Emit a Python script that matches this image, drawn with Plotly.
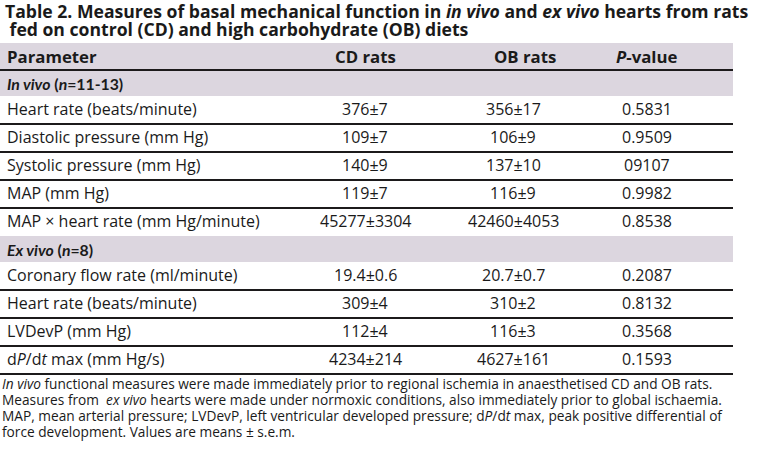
import plotly.graph_objects as go

# ---------------- data ----------------
title_lines = [
    "<b>Table 2. Measures of basal mechanical function in <i>in vivo</i> and <i>ex vivo</i> hearts from rats</b>",
    "<b> fed on control (CD) and high carbohydrate (OB) diets</b>",
]
headers = ["<b>Parameter</b>", "<b>CD rats</b>", "<b>OB rats</b>", "<b><i>P</i>-value</b>"]

group1_label = "<b><i>In vivo</i> (<i>n</i>=11-13)</b>"
group1_params = ["Heart rate (beats/minute)", "Diastolic pressure (mm Hg)",
                 "Systolic pressure (mm Hg)", "MAP (mm Hg)",
                 "MAP × heart rate (mm Hg/minute)"]
group1_cd = ["376±7", "109±7", "140±9", "119±7", "45277±3304"]
group1_ob = ["356±17", "106±9", "137±10", "116±9", "42460±4053"]
group1_p = ["0.5831", "0.9509", "09107", "0.9982", "0.8538"]

group2_label = "<b><i>Ex vivo</i> (<i>n</i>=8)</b>"
group2_params = ["Coronary flow rate (ml/minute)", "Heart rate (beats/minute)",
                 "LVDevP (mm Hg)", "d<i>P</i>/d<i>t</i> max (mm Hg/s)"]
group2_cd = ["19.4±0.6", "309±4", "112±4", "4234±214"]
group2_ob = ["20.7±0.7", "310±2", "116±3", "4627±161"]
group2_p = ["0.2087", "0.8132", "0.3568", "0.1593"]

footnotes = [
    "<i>In vivo</i> functional measures were made immediately prior to regional ischemia in anaesthetised CD and OB rats.",
    "Measures from  <i>ex vivo</i> hearts were made under normoxic conditions, also immediately prior to global ischaemia.",
    "MAP, mean arterial pressure; LVDevP, left ventricular developed pressure; d<i>P</i>/d<i>t</i> max, peak positive differential of",
    "force development. Values are means ± s.e.m.",
]

# ---------------- layout constants ----------------
W, H = 765, 454
FONT = "Open Sans"
GROUP_FONT = "Lato"
TXT = "#1a1a1a"
BAND = "#dcd6df"
LINE = "#1c1a1b"
TABLE_R = 733
X_PARAM = 5
X_CD, X_OB, X_P = 365, 513, 647
X_CD_H, X_OB_H, X_P_H = 365, 525, 646
HDR_TOP, HDR_BOT = 43, 70
GROUP_H = 26
ROW_H = 28

shapes = []
ann = []

def text(x, y, s, size=16, anchor="left", family=FONT):
    ann.append(dict(x=x, y=y, xref="x", yref="y", text=s, showarrow=False,
                    xanchor=anchor, yanchor="middle",
                    font=dict(family=family, size=size, color=TXT)))

def band(y0, y1):
    shapes.append(dict(type="rect", xref="x", yref="y", x0=0, x1=TABLE_R, y0=y0, y1=y1,
                       fillcolor=BAND, line=dict(width=0), layer="below"))

def hline(y, w=2.2):
    shapes.append(dict(type="line", xref="x", yref="y", x0=0, x1=TABLE_R, y0=y, y1=y,
                       line=dict(color=LINE, width=w)))

# title
for i, t in enumerate(title_lines):
    text(3, 11 + i * 18, t, size=17.6)

# header
band(HDR_TOP, HDR_BOT)
hy = (HDR_TOP + HDR_BOT) / 2
text(X_PARAM, hy, headers[0], size=16.8)
text(X_CD_H, hy, headers[1], anchor="center", size=16.8)
text(X_OB_H, hy, headers[2], anchor="center", size=16.8)
text(X_P_H, hy, headers[3], anchor="center", size=16.8)

y = HDR_BOT
for label, params, cd, ob, pv in [
    (group1_label, group1_params, group1_cd, group1_ob, group1_p),
    (group2_label, group2_params, group2_cd, group2_ob, group2_p),
]:
    band(y, y + GROUP_H)
    text(X_PARAM, y + GROUP_H / 2, label, size=15.8, family=GROUP_FONT)
    y += GROUP_H
    for i in range(len(params)):
        cy = y + ROW_H / 2 - 1
        text(X_PARAM, cy, params[i])
        text(X_CD, cy, cd[i], anchor="center")
        text(X_OB, cy, ob[i], anchor="center")
        text(X_P, cy, pv[i], anchor="center")
        y += ROW_H
        if i < len(params) - 1:
            hline(y)

hline(HDR_BOT)
hline(y)

# footnotes
for i, f in enumerate(footnotes):
    text(0, y + 9 + i * 16, f, size=13.7)

fig = go.Figure()
fig.update_layout(
    width=W, height=H,
    margin=dict(l=0, r=0, t=0, b=0),
    paper_bgcolor="white", plot_bgcolor="white",
    xaxis=dict(range=[0, W], visible=False, fixedrange=True),
    yaxis=dict(range=[H, 0], visible=False, fixedrange=True),
    shapes=shapes, annotations=ann, showlegend=False,
)
fig.write_html("out.html", config={"displayModeBar": False},
               post_script="document.body.style.margin='0';document.body.style.overflow='hidden';")
